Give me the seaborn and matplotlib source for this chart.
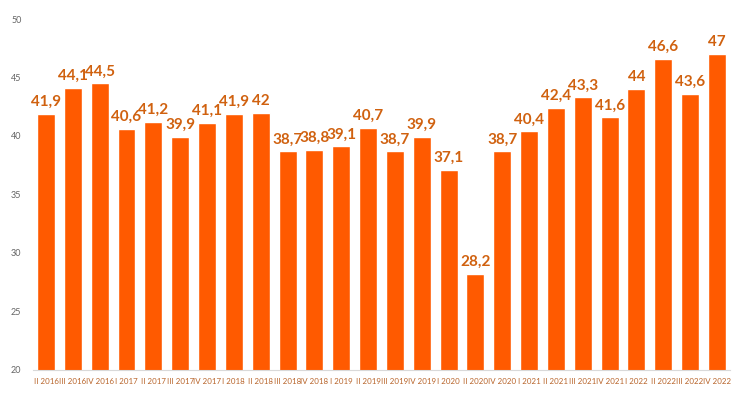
import matplotlib
matplotlib.use("Agg")
import matplotlib.pyplot as plt
import seaborn as sns
import pandas as pd

# -----------------------------
# Data
# -----------------------------
quarters = ["II 2016", "III 2016", "IV 2016", "I 2017", "II 2017", "III 2017", "IV 2017",
            "I 2018", "II 2018", "III 2018", "IV 2018", "I 2019", "II 2019", "III 2019",
            "IV 2019", "I 2020", "II 2020", "IV 2020", "I 2021", "II 2021", "III 2021",
            "IV 2021", "I 2022", "II 2022", "III 2022", "IV 2022"]
values = [41.9, 44.1, 44.5, 40.6, 41.2, 39.9, 41.1,
          41.9, 42.0, 38.7, 38.8, 39.1, 40.7, 38.7,
          39.9, 37.1, 28.2, 38.7, 40.4, 42.4, 43.3,
          41.6, 44.0, 46.6, 43.6, 47.0]
y_ticks = [20, 25, 30, 35, 40, 45, 50]

df = pd.DataFrame({"quarter": quarters, "value": values})

sns.set_style("white")
plt.rcParams["font.family"] = ["Lato", "DejaVu Sans"]

fig = plt.figure(figsize=(7.4, 3.96), dpi=100)
ax = fig.add_axes([0.044, 0.066, 0.943, 0.886])

sns.barplot(data=df, x="quarter", y="value", color="#FF5A00", saturation=1,
            width=0.67, ax=ax)

# value labels with decimal comma
for i, v in enumerate(values):
    txt = f"{v:g}".replace(".", ",")
    ax.annotate(txt, (i, v), xytext=(0, 3.5), textcoords="offset points",
                ha="center", va="bottom", fontsize=11, fontweight="bold",
                color="#D0610F")

ax.set_ylim(20, 50)
ax.set_xlim(-0.5, len(quarters) - 0.5)
ax.set_yticks(y_ticks)
ax.set_yticklabels([str(t) for t in y_ticks])
ax.tick_params(axis="y", labelsize=6.5, labelcolor="#666666", length=0, pad=8)
ax.tick_params(axis="x", labelsize=5.7, labelcolor="#B8642A", length=0, pad=6)
ax.set_xlabel("")
ax.set_ylabel("")

for s in ["top", "right", "left"]:
    ax.spines[s].set_visible(False)
ax.spines["bottom"].set_color("#D9D9D9")
ax.spines["bottom"].set_linewidth(0.8)

fig.savefig("out.png", dpi=100)
